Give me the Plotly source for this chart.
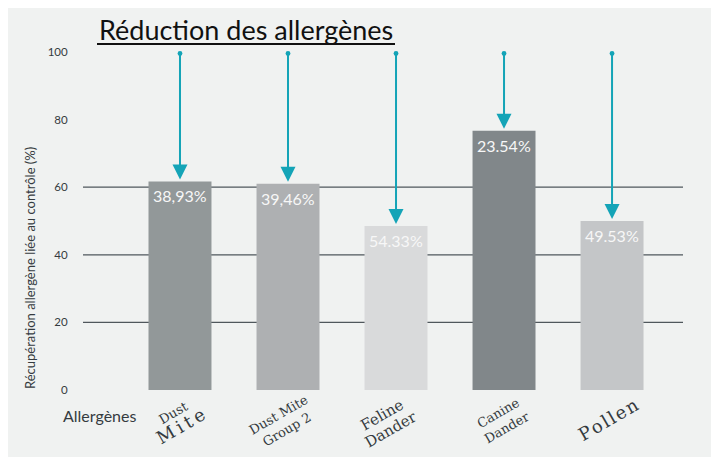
import plotly.graph_objects as go

# ---- data ----
categories = ["Dust Mite", "Dust Mite Group 2", "Feline Dander", "Canine Dander", "Pollen"]
recovery = [61.7, 61.0, 48.5, 76.7, 50.0]          # bar heights (% recovery vs control)
reduction_labels = ["38,93%", "39,46%", "54.33%", "23.54%", "49.53%"]
bar_colors = ["#929899", "#aeb0b2", "#d9dadb", "#81878a", "#c4c6c8"]
TS = "\u2009"   # thin space (letter spacing of the word-art labels)
HS = "\u200a"   # hair space
x_labels = [
    "<span style='font-size:13px'>Dust</span><br><span style='font-size:18px'>"
    + TS.join("Mite") + "</span>",
    "<span style='font-size:13px'>Dust Mite<br>Group 2</span>",
    "<span style='font-size:15px'>Feline<br>Dander</span>",
    "<span style='font-size:13px'>Canine<br>Dander</span>",
    "<span style='font-size:18px'>" + HS.join("Pollen") + "</span>",
]
y_ticks = [0, 20, 40, 60, 80, 100]
grid_values = [20, 40, 60]
arrow_start = 100

# ---- layout geometry (page body has an 8px margin) ----
OFF = 8
W, H = 719 - OFF, 457 - OFF
ML, MR, MT, MB = 75, 36, 44, 67
PW, PH = W - ML - MR, H - MT - MB
TEAL = "#14a4b7"
BG = "#f0f2f1"
TXT = "#353b40"

def px_x(p):  # screen pixel -> paper x
    return (p - OFF - ML) / PW

def px_y(p):  # screen pixel -> paper y
    return (H - MB - (p - OFF)) / PH

xs = list(range(len(categories)))

fig = go.Figure()
fig.add_trace(go.Bar(
    x=xs, y=recovery, width=0.583,
    marker=dict(color=bar_colors, line=dict(width=0)),
    hoverinfo="skip", showlegend=False,
))

shapes = []
for g in grid_values:
    shapes.append(dict(type="line", xref="paper", yref="y", x0=0, x1=1, y0=g, y1=g,
                       line=dict(color="#4f575c", width=1.2), layer="below"))
# title underline
shapes.append(dict(type="line", xref="paper", yref="paper",
                   x0=px_x(97), x1=px_x(395), y0=px_y(44), y1=px_y(44),
                   line=dict(color="#111111", width=2)))

annotations = []
# arrows
for i, v in zip(xs, recovery):
    annotations.append(dict(
        x=i, y=v, xref="x", yref="y", ax=i, ay=arrow_start, axref="x", ayref="y",
        text="", showarrow=True, arrowhead=2, arrowsize=1.5, arrowwidth=2,
        arrowcolor=TEAL, arrowside="end+start", startarrowhead=6, startarrowsize=0.6,
        standoff=2,
    ))
# labels inside bars
for i, v, t in zip(xs, recovery, reduction_labels):
    annotations.append(dict(
        x=i, y=v, xref="x", yref="y", text=t, showarrow=False,
        yanchor="top", yshift=-3,
        font=dict(family="Lato", size=16, color="#f7f7f7"),
    ))
# category labels (rotated)
label_y = [420, 422, 422, 420, 419]
label_dx = [-2, -5, -10, -1, -4]
for i, t, ly, dx in zip(xs, x_labels, label_y, label_dx):
    annotations.append(dict(
        x=i, y=px_y(ly), xref="x", yref="paper", text=t, showarrow=False,
        textangle=-30, xanchor="center", yanchor="middle", xshift=dx,
        font=dict(family="DejaVu Serif", size=13, color=TXT),
    ))
# title
annotations.append(dict(
    x=px_x(246), y=px_y(30), xref="paper", yref="paper",
    text="Réduction des allergènes", showarrow=False,
    xanchor="center", yanchor="middle",
    font=dict(family="Lato", size=27, color="#111111"),
))
# y axis title
annotations.append(dict(
    x=px_x(30), y=px_y(268), xref="paper", yref="paper",
    text="Récupération allergène liée au contrôle (%)", showarrow=False,
    textangle=-90, xanchor="center", yanchor="middle",
    font=dict(family="Lato", size=13, color=TXT),
))
# "Allergènes"
annotations.append(dict(
    x=px_x(61), y=px_y(415), xref="paper", yref="paper",
    text="Allergènes", showarrow=False, xanchor="left", yanchor="middle",
    font=dict(family="Lato", size=16, color=TXT),
))

fig.update_layout(
    width=W, height=H,
    margin=dict(l=ML, r=MR, t=MT, b=MB, pad=0),
    paper_bgcolor=BG, plot_bgcolor="rgba(0,0,0,0)",
    shapes=shapes, annotations=annotations,
    xaxis=dict(range=[-0.898, 4.657], showticklabels=False, showgrid=False,
               zeroline=False, showline=False, ticks=""),
    yaxis=dict(range=[0, 100], tickvals=y_ticks, showgrid=False, zeroline=False,
               showline=False, ticks="outside", ticklen=12, tickcolor="rgba(0,0,0,0)",
               tickfont=dict(family="Lato", size=11.5, color=TXT)),
)

fig.write_html("out.html")
